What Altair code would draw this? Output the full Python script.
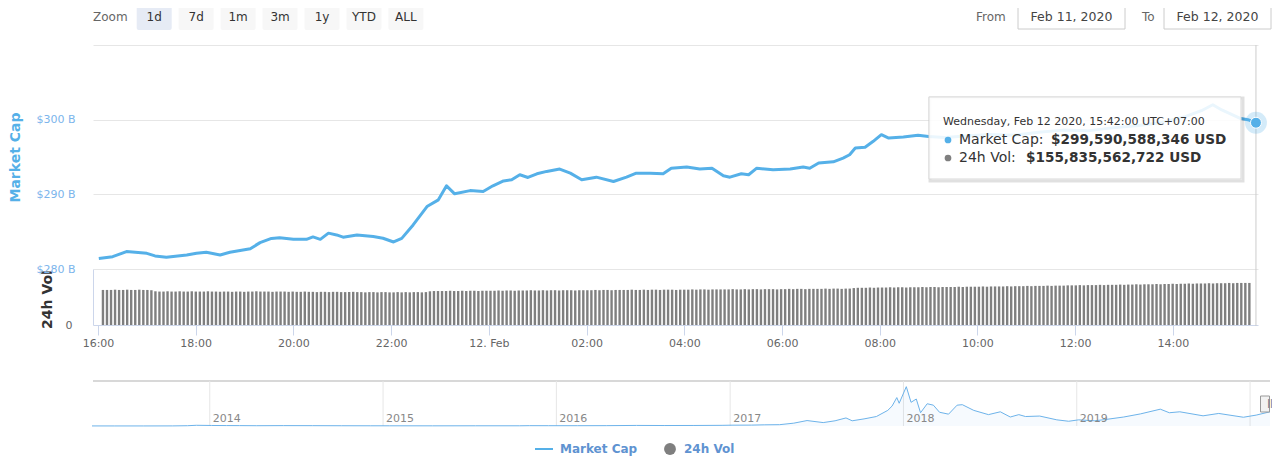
import altair as alt
import pandas as pd

# ---------------- data ----------------
cap_times = [
    "2020-02-11 16:01", "2020-02-11 16:18", "2020-02-11 16:35", "2020-02-11 17:00", "2020-02-11 17:10",
    "2020-02-11 17:24", "2020-02-11 17:49", "2020-02-11 18:01", "2020-02-11 18:13", "2020-02-11 18:30",
    "2020-02-11 18:42", "2020-02-11 19:07", "2020-02-11 19:19", "2020-02-11 19:33", "2020-02-11 19:43",
    "2020-02-11 20:00", "2020-02-11 20:16", "2020-02-11 20:24", "2020-02-11 20:33", "2020-02-11 20:43",
    "2020-02-11 20:53", "2020-02-11 21:01", "2020-02-11 21:18", "2020-02-11 21:38", "2020-02-11 21:50",
    "2020-02-11 22:03", "2020-02-11 22:13", "2020-02-11 22:27", "2020-02-11 22:44", "2020-02-11 22:58",
    "2020-02-11 23:08", "2020-02-11 23:18", "2020-02-11 23:37", "2020-02-11 23:53", "2020-02-12 00:05",
    "2020-02-12 00:18", "2020-02-12 00:28", "2020-02-12 00:38", "2020-02-12 00:48", "2020-02-12 00:59",
    "2020-02-12 01:11", "2020-02-12 01:27", "2020-02-12 01:40", "2020-02-12 01:54", "2020-02-12 02:12",
    "2020-02-12 02:33", "2020-02-12 02:49", "2020-02-12 03:01", "2020-02-12 03:18", "2020-02-12 03:34",
    "2020-02-12 03:44", "2020-02-12 04:03", "2020-02-12 04:19", "2020-02-12 04:34", "2020-02-12 04:48",
    "2020-02-12 04:56", "2020-02-12 05:10", "2020-02-12 05:19", "2020-02-12 05:29", "2020-02-12 05:49",
    "2020-02-12 06:10", "2020-02-12 06:26", "2020-02-12 06:34", "2020-02-12 06:45", "2020-02-12 07:03",
    "2020-02-12 07:15", "2020-02-12 07:23", "2020-02-12 07:30", "2020-02-12 07:42", "2020-02-12 07:52",
    "2020-02-12 08:02", "2020-02-12 08:11", "2020-02-12 08:29", "2020-02-12 08:47", "2020-02-12 09:00",
    "2020-02-12 09:20", "2020-02-12 09:45", "2020-02-12 10:15", "2020-02-12 10:45", "2020-02-12 11:15",
    "2020-02-12 11:45", "2020-02-12 12:15", "2020-02-12 12:45", "2020-02-12 13:15", "2020-02-12 13:45",
    "2020-02-12 14:15", "2020-02-12 14:35", "2020-02-12 14:49", "2020-02-12 15:00", "2020-02-12 15:10",
    "2020-02-12 15:22", "2020-02-12 15:32", "2020-02-12 15:42",
]
cap_values = [
    281.40, 281.65, 282.33, 282.10, 281.75, 281.57, 281.88, 282.10, 282.24, 281.88,
    282.24, 282.72, 283.53, 284.10, 284.20, 283.97, 283.97, 284.30, 283.97, 284.80,
    284.56, 284.26, 284.56, 284.34, 284.12, 283.62, 284.10, 285.90, 288.36, 289.26,
    291.14, 290.07, 290.50, 290.38, 291.14, 291.80, 291.95, 292.62, 292.26, 292.75,
    293.07, 293.38, 292.84, 291.95, 292.30, 291.72, 292.30, 292.84, 292.84, 292.75,
    293.50, 293.65, 293.38, 293.50, 292.48, 292.30, 292.75, 292.62, 293.50, 293.29,
    293.38, 293.65, 293.50, 294.20, 294.36, 294.86, 295.30, 296.20, 296.30, 297.10,
    297.99, 297.54, 297.68, 297.90, 297.76, 297.60, 297.80, 298.00, 297.90, 298.30,
    298.60, 298.50, 298.90, 299.20, 299.60, 300.40, 301.20, 302.00, 301.30, 300.80,
    300.20, 300.00, 299.59,
]

# 24h volume (billion USD), one bar every 5 minutes starting 16:00
vol_start = "2020-02-11 16:00"
vol_values = [
    130, 130, 130, 131, 130, 130, 131, 130, 130, 131, 130, 130, 129, 125, 124, 124, 125, 124, 124, 125, 124, 124, 125, 124,
    124, 124, 125, 124, 124, 123, 124, 124, 123, 124, 124, 123, 124, 124, 125, 124, 124, 124, 123, 124, 124, 124, 123, 124,
    123, 123, 124, 123, 123, 122, 123, 123, 122, 123, 123, 122, 122, 122, 123, 122, 122, 121, 122, 122, 121, 122, 122, 121,
    121, 122, 121, 122, 121, 122, 122, 121, 122, 125, 126, 126, 126, 126, 127, 126, 126, 127, 126, 127, 127, 126, 127, 127,
    127, 127, 128, 127, 128, 128, 127, 128, 128, 128, 129, 128, 128, 129, 128, 129, 129, 128, 129, 129, 129, 128, 129, 129,
    129, 129, 130, 129, 130, 130, 129, 130, 130, 130, 130, 131, 130, 130, 131, 130, 131, 131, 130, 131, 131, 131, 130, 131,
    131, 131, 132, 131, 132, 132, 131, 132, 132, 132, 132, 132, 133, 132, 132, 133, 132, 133, 133, 132, 133, 133, 133, 132,
    133, 133, 134, 133, 134, 134, 133, 134, 134, 134, 134, 135, 134, 135, 135, 134, 135, 135, 137, 138, 138, 138, 139, 138,
    139, 139, 139, 140, 139, 140, 140, 139, 140, 140, 140, 141, 140, 141, 141, 140, 141, 141, 141, 141, 142, 141, 142, 142,
    142, 142, 143, 142, 143, 143, 143, 143, 144, 143, 144, 144, 144, 145, 144, 145, 145, 145, 146, 145, 146, 146, 146, 147,
    147, 147, 148, 147, 148, 148, 148, 149, 148, 149, 149, 149, 150, 149, 150, 150, 151, 150, 151, 151, 151, 152, 151, 152,
    152, 153, 152, 153, 153, 154, 153, 154, 154, 154, 155, 154, 155, 155, 155, 156, 155, 156, 156, 156, 156,
]

# navigator: total market cap history (billion USD)
nav_dates = [
    "2013-04-28", "2013-06-15", "2013-08-15", "2013-10-15", "2013-11-15", "2013-12-04", "2014-01-05", "2014-02-05",
    "2014-03-05", "2014-04-10", "2014-06-05", "2014-08-05", "2014-10-05", "2014-12-05", "2015-01-15", "2015-04-15",
    "2015-07-15", "2015-10-15", "2015-11-05", "2015-12-15", "2016-02-15", "2016-04-15", "2016-06-18", "2016-08-15",
    "2016-10-15", "2016-12-15", "2017-01-05", "2017-02-15", "2017-03-15", "2017-04-15", "2017-05-15", "2017-06-12",
    "2017-07-16", "2017-08-10", "2017-09-02", "2017-09-15", "2017-10-10", "2017-11-05", "2017-11-29", "2017-12-08",
    "2017-12-18", "2017-12-23", "2018-01-07", "2018-01-17", "2018-01-28", "2018-02-06", "2018-02-20", "2018-03-05",
    "2018-03-18", "2018-04-06", "2018-04-24", "2018-05-05", "2018-05-29", "2018-06-29", "2018-07-24", "2018-08-14",
    "2018-09-01", "2018-09-15", "2018-10-15", "2018-11-20", "2018-12-15", "2019-01-05", "2019-02-08", "2019-03-01",
    "2019-04-10", "2019-05-15", "2019-06-26", "2019-07-15", "2019-08-06", "2019-09-24", "2019-10-27", "2019-12-18",
    "2020-01-14", "2020-02-12",
]
nav_values = [
    1.6, 1.3, 1.2, 2.0, 6, 15, 11, 9,
    8, 6, 8, 7, 5.5, 4.5, 4, 3.5,
    4.5, 4.5, 7, 6.5, 6.5, 7.5, 12, 10,
    11, 14, 17.7, 19, 25, 28, 60, 115,
    72, 110, 170, 110, 150, 200, 330, 420,
    600, 480, 830, 500, 570, 280, 470, 440,
    290, 250, 440, 450, 330, 240, 300, 190,
    240, 200, 210, 130, 100, 130, 110, 135,
    190, 255, 355, 280, 300, 215, 265, 185,
    230, 300,
]
nav_years = ["2014", "2015", "2016", "2017", "2018", "2019", "2020"]

zoom_buttons = ["1d", "7d", "1m", "3m", "1y", "YTD", "ALL"]
date_from, date_to = "Feb 11, 2020", "Feb 12, 2020"
tip_header = "Wednesday, Feb 12 2020, 15:42:00 UTC+07:00"
tip_labels = ["Market Cap: ", "24h Vol: "]
tip_values = ["$299,590,588,346 USD", "$155,835,562,722 USD"]
legend_labels = ["Market Cap", "24h Vol"]

# ---------------- styling ----------------
BLUE = "#55b0e8"
GRAY = "#7f7f7f"
FONT = "DejaVu Sans"
W, H = 1165, 280

cap_df = pd.DataFrame({"time": pd.to_datetime(cap_times), "cap": cap_values})
vol_df = pd.DataFrame({
    "time": pd.date_range(vol_start, periods=len(vol_values), freq="5min"),
    "vol": vol_values,
})
last_df = cap_df.tail(1)
nav_df = pd.DataFrame({"date": pd.to_datetime(nav_dates), "v": nav_values})
year_df = pd.DataFrame({"date": pd.to_datetime([y + "-01-01" for y in nav_years]), "label": nav_years})
year_df["label"] = year_df["label"].where(year_df["label"] != "2020", "")

t0 = alt.DateTime(year=2020, month=2, date=11, hours=15, minutes=53, seconds=52)
t1 = alt.DateTime(year=2020, month=2, date=12, hours=15, minutes=44, seconds=30)
tick_vals = [alt.DateTime(year=2020, month=2, date=11 + (16 + 2 * i) // 24, hours=(16 + 2 * i) % 24)
             for i in range(12)]
xscale = alt.Scale(domain=[t0, t1], range=[0, W])
xaxis = alt.Axis(
    orient="bottom", values=tick_vals,
    labelExpr="hours(datum.value) == 0 ? date(datum.value) + '. ' + timeFormat(datum.value, '%b') : timeFormat(datum.value, '%H:%M')",
    domainColor="#ccd6eb", tickColor="#ccd6eb", tickSize=10, labelPadding=2,
    labelColor="#666666", labelFontSize=11, labelFlush=False, labelOverlap=False,
    grid=False, title=None,
)
cap_scale = alt.Scale(domain=[280, 310], range=[224, 0])
vol_scale = alt.Scale(domain=[0, 207.7], range=[280, 224])

nav_scale_x = alt.Scale(domain=[alt.DateTime(year=2013, month=4, date=28), alt.DateTime(year=2020, month=2, date=12)],
                        range=[-1, 1177])
nav_scale_y = alt.Scale(domain=[0, 950], range=[381, 336])

# ---------------- main pane ----------------
crosshair = alt.Chart(last_df).mark_rule(color="#cccccc", strokeWidth=1).encode(
    x=alt.X("time:T", scale=xscale, axis=None), y=alt.value(0), y2=alt.value(281))

vol_bars = alt.Chart(vol_df).mark_bar(size=2.4, color=GRAY).encode(
    x=alt.X("time:T", scale=xscale, axis=None),
    y=alt.Y("vol:Q", scale=vol_scale, axis=alt.Axis(
        orient="left", values=[0], grid=False, ticks=False, domain=True, domainColor="#ccd6eb",
        labelPadding=21, labelColor="#666666", labelFontSize=11,
        title="24h Vol", titleX=-46, titleY=254, titleAngle=-90, titleBaseline="middle",
        titleColor="#333333", titleFontSize=14, titleFontWeight="bold")))

cap_line = alt.Chart(cap_df).mark_line(color=BLUE, strokeWidth=3, strokeJoin="round").encode(
    x=alt.X("time:T", scale=xscale, axis=xaxis),
    y=alt.Y("cap:Q", scale=cap_scale, axis=alt.Axis(
        orient="left", values=[280, 290, 300, 310],
        labelExpr="datum.value >= 310 ? '' : '$' + datum.value + ' B'",
        grid=True, gridColor="#e6e6e6", domain=False, ticks=False,
        labelPadding=18, labelColor="#7cb5ec", labelFontSize=11,
        title="Market Cap", titleX=-78, titleY=112, titleAngle=-90, titleBaseline="middle",
        titleColor=BLUE, titleFontSize=14, titleFontWeight="bold")))

halo = alt.Chart(last_df).mark_point(filled=True, size=480, color=BLUE, opacity=0.25).encode(
    x=alt.X("time:T", scale=xscale, axis=None), y=alt.Y("cap:Q", scale=cap_scale, axis=None))
dot = alt.Chart(last_df).mark_point(filled=True, size=120, color=BLUE, opacity=1,
                                     stroke="white", strokeWidth=1).encode(
    x=alt.X("time:T", scale=xscale, axis=None), y=alt.Y("cap:Q", scale=cap_scale, axis=None))

# ---------------- navigator ----------------
nav_outline = alt.Chart(pd.DataFrame({"a": [0]})).mark_rule(color="#d8d8d8", strokeWidth=2).encode(
    x=alt.value(0), x2=alt.value(1177), y=alt.value(336))
nav_grid = alt.Chart(year_df).mark_rule(color="#e6e6e6").encode(
    x=alt.X("date:T", scale=nav_scale_x, axis=None), y=alt.value(336), y2=alt.value(381))
nav_area = alt.Chart(nav_df).mark_area(color="#7cb5ec", opacity=0.07).encode(
    x=alt.X("date:T", scale=nav_scale_x, axis=None), y=alt.Y("v:Q", scale=nav_scale_y, axis=None))
nav_line = alt.Chart(nav_df).mark_line(color="#6db3ea", strokeWidth=1).encode(
    x=alt.X("date:T", scale=nav_scale_x, axis=None), y=alt.Y("v:Q", scale=nav_scale_y, axis=None))
nav_labels = alt.Chart(year_df).mark_text(align="left", baseline="middle", dx=3, fontSize=11,
                                          color="#888888", font=FONT).encode(
    x=alt.X("date:T", scale=nav_scale_x, axis=None), y=alt.value(374), text="label:N")
handle_df = nav_df.tail(1)
handle = alt.Chart(handle_df).mark_bar(size=9, fill="#f2f2f2", stroke="#999999", strokeWidth=1).encode(
    x=alt.X("date:T", scale=nav_scale_x, axis=None), y=alt.value(351), y2=alt.value(367))
handle_txt = alt.Chart(handle_df).mark_text(text="||", fontSize=8, color="#555555", font=FONT).encode(
    x=alt.X("date:T", scale=nav_scale_x, axis=None), y=alt.value(359))

# ---------------- decorations (UI chrome) ----------------
def px(col):
    return alt.X(col + ":Q", scale=None, axis=None)

def py(col):
    return alt.Y(col + ":Q", scale=None, axis=None)

btn_df = pd.DataFrame({
    "label": zoom_buttons,
    "x": [43.7 + 41.95 * i for i in range(len(zoom_buttons))],
})
btn_df["x2"] = btn_df["x"] + 35
btn_df["xc"] = btn_df["x"] + 17.5
btn_df["fill"] = ["#e6ebf5"] + ["#f7f7f7"] * (len(zoom_buttons) - 1)
btn_df["y"] = -40
btn_df["y2"] = -15
btn_df["yc"] = -28

buttons = alt.Chart(btn_df).mark_rect(cornerRadius=2).encode(
    x=px("x"), x2="x2:Q", y=py("y"), y2="y2:Q", color=alt.Color("fill:N", scale=None))
btn_text = alt.Chart(btn_df).mark_text(fontSize=12, color="#333333", font=FONT, baseline="middle").encode(
    x=px("xc"), y=py("yc"), text="label:N")

lbl_df = pd.DataFrame({"t": ["Zoom", "From", "To"], "x": [0, 883, 1049], "y": [-28, -28, -28]})
ui_labels = alt.Chart(lbl_df).mark_text(fontSize=12, color="#666666", font=FONT, align="left",
                                        baseline="middle").encode(x=px("x"), y=py("y"), text="t:N")

box_df = pd.DataFrame({"t": [date_from, date_to], "x": [925, 1071], "x2": [1032, 1178]})
box_df["xc"] = (box_df["x"] + box_df["x2"]) / 2
box_df["y"] = -41
box_df["y2"] = -16
box_df["yc"] = -28
boxes = alt.Chart(box_df).mark_rect(fill="white", stroke="#cccccc", strokeWidth=1).encode(
    x=px("x"), x2="x2:Q", y=py("y"), y2="y2:Q")
box_text = alt.Chart(box_df).mark_text(fontSize=12.5, color="#444444", font=FONT, baseline="middle").encode(
    x=px("xc"), y=py("yc"), text="t:N")

# tooltip
tip_box_df = pd.DataFrame({"x": [836], "x2": [1148], "y": [52], "y2": [134]})
tip_shadow = alt.Chart(pd.DataFrame({"x": [837], "x2": [1150], "y": [53], "y2": [136]})).mark_rect(
    fillOpacity=0.0, stroke="black", strokeOpacity=0.12, strokeWidth=3).encode(
    x=px("x"), x2="x2:Q", y=py("y"), y2="y2:Q")
tip_box = alt.Chart(tip_box_df).mark_rect(fill="white", fillOpacity=0.88, stroke="#d9d9d9",
                                          strokeWidth=1).encode(x=px("x"), x2="x2:Q", y=py("y"), y2="y2:Q")
tip_head = alt.Chart(pd.DataFrame({"t": [tip_header], "x": [850], "y": [77]})).mark_text(
    fontSize=11, color="#333333", font=FONT, align="left", baseline="middle").encode(
    x=px("x"), y=py("y"), text="t:N")
tip_rows = pd.DataFrame({"label": tip_labels, "value": tip_values, "c": [BLUE, GRAY],
                         "y": [95, 113], "xb": [855, 855], "xl": [866, 866], "xv": [958, 933]})
tip_bul = alt.Chart(tip_rows).mark_point(filled=True, size=45, opacity=1).encode(
    x=px("xb"), y=py("y"), color=alt.Color("c:N", scale=None))
tip_lab = alt.Chart(tip_rows).mark_text(fontSize=14, color="#333333", font=FONT, align="left",
                                        baseline="middle").encode(x=px("xl"), y=py("y"), text="label:N")
tip_val = alt.Chart(tip_rows).mark_text(fontSize=13.6, color="#333333", font=FONT, align="left",
                                        baseline="middle", fontWeight="bold").encode(
    x=px("xv"), y=py("y"), text="value:N")

# legend
leg_df = pd.DataFrame({"t": legend_labels, "x": [467, 591], "y": [404, 404]})
leg_text = alt.Chart(leg_df).mark_text(fontSize=12, fontWeight="bold", color="#5f93d1", font=FONT,
                                       align="left", baseline="middle").encode(x=px("x"), y=py("y"), text="t:N")
leg_line = alt.Chart(pd.DataFrame({"x": [442], "x2": [460], "y": [404]})).mark_rule(
    color=BLUE, strokeWidth=2).encode(x=px("x"), x2="x2:Q", y=py("y"))
leg_dot = alt.Chart(pd.DataFrame({"x": [577], "y": [404]})).mark_point(
    filled=True, size=140, color=GRAY, opacity=1).encode(x=px("x"), y=py("y"))

chart = alt.layer(
    crosshair, vol_bars, cap_line,
    nav_outline, nav_grid, nav_area, nav_line, nav_labels, handle, handle_txt,
    buttons, btn_text, ui_labels, boxes, box_text,
    tip_shadow, tip_box, tip_head, tip_bul, tip_lab, tip_val,
    halo, dot,
    leg_line, leg_text, leg_dot,
).resolve_scale(x="independent", y="independent", color="independent").properties(
    width=W, height=H,
    autosize=alt.AutoSizeParams(type="none"),
    padding={"left": 85, "top": 37, "right": 14, "bottom": 131},
).configure(font=FONT).configure_view(stroke=None)

chart.save("out.html", embed_options={"renderer": "svg", "actions": False})
